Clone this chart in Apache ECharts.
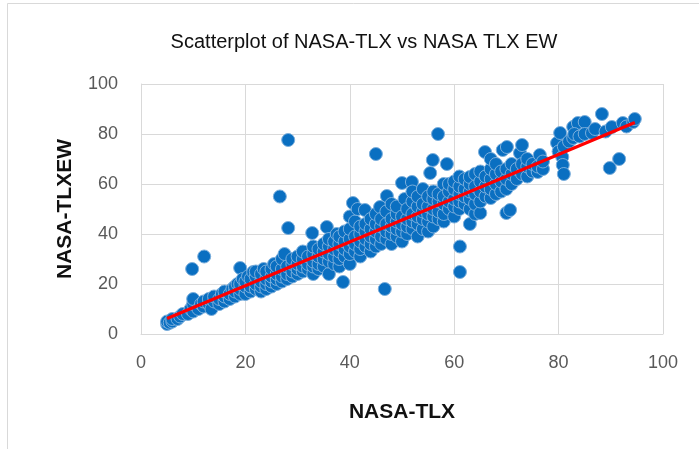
<!DOCTYPE html>
<html>
<head>
<meta charset="utf-8">
<script src="https://cdn.jsdelivr.net/npm/echarts@6/dist/echarts.min.js"></script>
<style>
  html, body { margin: 0; padding: 0; background: #fff; }
  #main { width: 699px; height: 449px; }
</style>
</head>
<body>
<div id="main"></div>
<script>
// NASA-TLX (x) vs NASA-TLX EW (y)
var tlxPoints = [
  [5,4],[5,5],[5.5,4.5],[6,5],[6,6],[7,6],[7.5,7],[8,8],[9,8],[9.5,10],[10,9],[10,12],[10,14],[9.8,26],[12.1,31],
  [11,10],[11.5,12],[12,11],[12,13],[13,12],[13,14],[13.5,10],[14,13],[14,15],[15,12],[15,14],[15.5,16],[16,13],[16,15],[16,17],
  [17,14],[17,16],[17.5,18],[18,15],[18,17],[18,19],[18.5,20],[19,16],[19,18],[19,20],[19,26.4],[19.5,22],[20,16],[20,19],[20,21],[20.5,23],[21,17],[21,19],[21,22],[21.5,24.8],[22,18],[22,20],[22,23],[22,25],
  [23,17],[23,19],[23,21],[23,24],[23.5,26],[24,18],[24,20],[24,22],[24,25],[25,19],[25,21],[25,23],[25,26],[25.5,28],[26,20],[26,22],[26,24],[26,27],[26.6,55],[27,21],[27,23],[27,26],[27,30],[27.5,32],[28,22],[28,24],[28,27],[28.2,42.4],[28.2,77.6],
  [29,23],[29,25],[29,28],[29,30],[30,24],[30,26],[30,28],[30,31],[31,25],[31,27],[31,30],[31,33],[32,26],[32,28],[32,31],[32.8,40.4],[33,24],[33,27],[33,29],[33,32],[33,35],[34,26],[34,28],[34,31],[34,34],
  [35,27],[35,30],[35,33],[35,36],[35.6,42.8],[36,24],[36,29],[36,32],[36,35],[36,38],[37,28],[37,31],[37,34],[37,37],[37.5,40],[38,27],[38,30],[38,33],[38,36],[38,39],[38.7,20.8],[39,31],[39,34],[39,37],[39,41],[40,28],[40,32],[40,35],[40,38],[40,42],[40.6,52.4],[40,47],
  [41,33],[41,36],[41,39],[41,45],[41.5,50],[42,31],[42,34],[42,37],[42,40],[42,43],[42.9,49.6],[43,35],[43,38],[43,41],[43,44],[44,33],[44,36],[44,39],[44,42],[44,46],[45,35],[45,38],[45,41],[45,44],[45,48],[45,72],[45.8,50.8],[46,36],[46,39],[46,43],[46,46],
  [46.7,18],[47,38],[47,41],[47,44],[47,49],[47.1,55.2],[48,36],[48,40],[48,43],[48,46],[48,52],[49,39],[49,42],[49,45],[49,48],[49,51],[50,37],[50,41],[50,44],[50,47],[50,60.4],[50.5,54],[51,40],[51,43],[51,46],[51,50],[51.9,60.8],[52,42],[52,45],[52,48],[52,53],[52,57],
  [53,39],[53,44],[53,47],[53,51],[53,55],[54,42],[54,46],[54,49],[54,52],[54,58],[55,41],[55,45],[55,48],[55,51],[55,55],[55.4,64.4],[55.9,69.6],[56,43],[56,47],[56,50],[56,54],[56,57],[56.9,80],[57,46],[57,49],[57,53],[57,56],[58,45],[58,48],[58,52],[58,55],[58.6,68],[58,60],
  [59,50],[59,53],[59,57],[59,60],[60,47],[60,51],[60,54],[60,58],[60,61],[61,50],[61,53],[61,56],[61,59],[61.1,24.8],[61.1,35],[61,63],[62,52],[62,55],[62,58],[62,62],[63,44],[63,50],[63,54],[63,57],[63,60],[63,62.8],[64,48],[64,52],[64,56],[64,59],[64,64],
  [65,48.4],[65,53],[65,57],[65,61],[65,65],[66,55],[66,59],[66,63],[65.9,72.8],[67,54.4],[67,58],[67,62],[67,66],[67,70],[68,56],[68,60],[68,64],[68,68],[69,57],[69,61],[69,65],[69.3,73.6],[70,48.4],[70.7,49.6],[70,58],[70,62],[70,66],[70.1,74.8],
  [71,60],[71,64],[71,68],[72,62],[72,66],[72.6,72.4],[73,64],[73,68],[73,75.6],[74,63],[74,67],[74,70],[75,65],[75,68],[76,64.8],[76.4,71.6],[76,67],[77,66],[77,69],
  [79.7,76.4],[80.3,80.4],[80,73],[80.7,70.8],[80.8,67.6],[81,64],[81,75],[82,77],[82.8,78.4],[82.8,82.8],[83.7,84.4],[83,80],[84,79],
  [85,84.8],[85,80],[86.4,80.4],[87,82],[88.3,88],[89,81],[89.8,66.4],[90.2,82.8],[91.6,70],[92.3,84.4],[93,83],[94.3,84.8],[94.6,86]
];
// linear trend line ends
var trendLine = [[5, 6.2], [94.6, 84.6]];
var xTicks = [0, 20, 40, 60, 80, 100];
var yTicks = [0, 20, 40, 60, 80, 100];

var grey = '#595959';
var gridGrey = '#d9d9d9';
var font = 'Liberation Sans';

var myChart = echarts.init(document.getElementById('main'));
var option = {
  animation: false,
  backgroundColor: '#fff',
  title: {
    text: 'Scatterplot of NASA-TLX vs NASA TLX EW',
    left: 359, top: 27, textAlign: 'center',
    textStyle: { fontFamily: font, fontSize: 20, fontWeight: 'normal', color: '#111' }
  },
  graphic: [{
    type: 'rect', shape: { x: 7.5, y: 3.5, width: 720, height: 480 },
    style: { fill: 'none', stroke: gridGrey, lineWidth: 1 }, silent: true
  }],
  grid: { left: 141, right: 36, top: 84, bottom: 115 },
  xAxis: {
    type: 'value', min: xTicks[0], max: xTicks[xTicks.length - 1], interval: 20,
    name: 'NASA-TLX', nameLocation: 'middle', nameGap: 68,
    nameTextStyle: { fontFamily: font, fontSize: 21, fontWeight: 'bold', color: '#111' },
    axisLine: { lineStyle: { color: gridGrey } },
    axisTick: { show: false },
    axisLabel: { color: grey, fontSize: 18, margin: 20, fontFamily: font },
    splitLine: { lineStyle: { color: gridGrey, width: 1 } }
  },
  yAxis: {
    type: 'value', min: yTicks[0], max: yTicks[yTicks.length - 1], interval: 20,
    name: 'NASA-TLXEW', nameLocation: 'middle', nameGap: 65, nameRotate: 90,
    nameTextStyle: { fontFamily: font, fontSize: 21, fontWeight: 'bold', color: '#111' },
    axisLine: { show: true, lineStyle: { color: gridGrey } },
    axisTick: { show: false },
    axisLabel: { color: grey, fontSize: 18, margin: 23, fontFamily: font },
    splitLine: { lineStyle: { color: gridGrey, width: 1 } }
  },
  series: [{
    type: 'scatter',
    data: tlxPoints,
    symbolSize: 13,
    itemStyle: { color: '#0a6fc1', borderColor: '#7aaedc', borderWidth: 1, opacity: 1 }
  }, {
    type: 'line',
    data: trendLine,
    symbol: 'none',
    lineStyle: { color: '#ff0000', width: 3 },
    z: 5
  }]
};
myChart.setOption(option);
</script>
</body>
</html>
